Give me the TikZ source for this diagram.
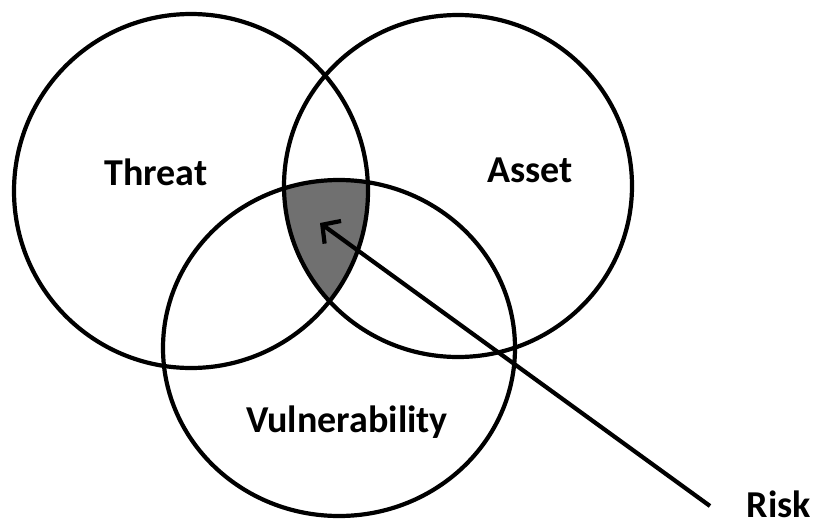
\documentclass[tikz,border=0pt]{standalone}
\usepackage{fontspec}
\setmainfont{Carlito}
\usetikzlibrary{arrows.meta}
\definecolor{riskgray}{RGB}{112,112,112}
\tikzset{
  ring/.style={draw=black, line width=4.2pt},
  label/.style={font=\fontsize{38}{44}\selectfont\bfseries, inner sep=0pt},
  pointer/.style={draw=black, line width=4.2pt, -{Straight Barb[length=13pt,width=28pt,line width=4.2pt]}}
}
\begin{document}
\begin{tikzpicture}[x=1pt,y=-1pt]
\useasboundingbox (0,0) rectangle (818,527);
\coordinate (cT) at (191,191);
\coordinate (cA) at (458,186);
\coordinate (cV) at (339,348);
\begin{scope}
  \clip (cT) ellipse [x radius=177pt, y radius=177pt];
  \clip (cA) ellipse [x radius=174pt, y radius=171pt];
  \fill[riskgray] (cV) ellipse [x radius=176pt, y radius=168pt];
\end{scope}
\draw[ring] (cT) ellipse [x radius=177pt, y radius=177pt];
\draw[ring] (cA) ellipse [x radius=174pt, y radius=171pt];
\draw[ring] (cV) ellipse [x radius=176pt, y radius=168pt];
\node[label] (threat) at (156,172) {Threat};
\node[label] (asset) at (530,170) {Asset};
\node[label, anchor=base] (vuln) at (347,432) {Vulnerability};
\node[label, anchor=base east] (risk) at (811,517) {Risk};
\coordinate (tail) at (710,506);
\coordinate (tip) at (320,223);
\draw[pointer] (tail) -- (tip);
\end{tikzpicture}
\end{document}
